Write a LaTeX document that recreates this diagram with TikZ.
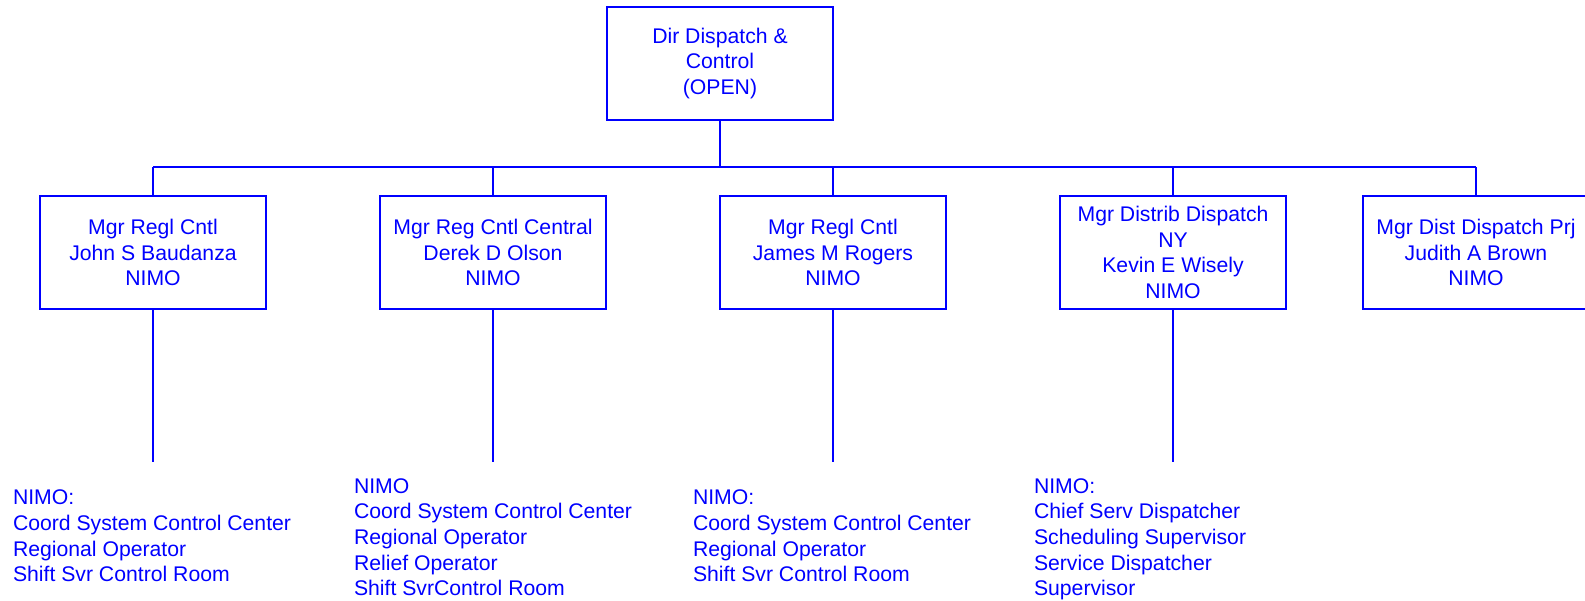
\documentclass[tikz,border=0pt]{standalone}
\usepackage{fontspec}
\setmainfont{Liberation Sans}
\usetikzlibrary{calc}
\definecolor{orgblue}{RGB}{0,0,255}
\begin{document}
\begin{tikzpicture}[x=1pt,y=-1pt,
  line width=2pt,
  every node/.style={text=orgblue, font=\fontsize{21.2}{25.4}\selectfont},
  posbox/.style={draw=orgblue, minimum width=226pt, minimum height=113pt, align=center, inner sep=0pt},
  conn/.style={draw=orgblue, line width=2pt},
  dutylist/.style={anchor=north west, align=left, inner sep=0pt, font=\fontsize{21.2}{25.6}\selectfont}]
\useasboundingbox (0,0) rectangle (1585,600);
\node[posbox] (dir) at (720,63.5) {Dir Dispatch \&\\Control\\(OPEN)};
\node[posbox] (m1) at (153,252.5) {Mgr Regl Cntl\\John S Baudanza\\NIMO};
\node[posbox] (m2) at (493,252.5) {Mgr Reg Cntl Central\\Derek D Olson\\NIMO};
\node[posbox] (m3) at (833,252.5) {Mgr Regl Cntl\\James M Rogers\\NIMO};
\node[posbox] (m4) at (1173,252.5) {Mgr Distrib Dispatch\\NY\\Kevin E Wisely\\NIMO};
\node[posbox] (m5) at (1476,252.5) {Mgr Dist Dispatch Prj\\Judith A Brown\\NIMO};
\coordinate (bus) at (720,167);
\draw[conn] (dir.south) -- (bus);
\draw[conn] (m1.north |- bus) -- (m5.north |- bus);
\foreach \m in {m1,m2,m3,m4,m5} \draw[conn] (\m.north |- bus) -- (\m.north);
\foreach \m in {m1,m2,m3,m4} {
  \coordinate (\m e) at ($(\m.south)+(0,152)$);
  \draw[conn] (\m.south) -- (\m e);
}
\node[dutylist] (l1) at (12,489) {NIMO:\\Coord System Control Center\\Regional Operator\\Shift Svr Control Room};
\node[dutylist] (l2) at (353,477.5) {NIMO\\Coord System Control Center\\Regional Operator\\Relief Operator\\Shift SvrControl Room};
\node[dutylist] (l3) at (692,489) {NIMO:\\Coord System Control Center\\Regional Operator\\Shift Svr Control Room};
\node[dutylist] (l4) at (1033,477.5) {NIMO:\\Chief Serv Dispatcher\\Scheduling Supervisor\\Service Dispatcher\\Supervisor};
\end{tikzpicture}
\end{document}
